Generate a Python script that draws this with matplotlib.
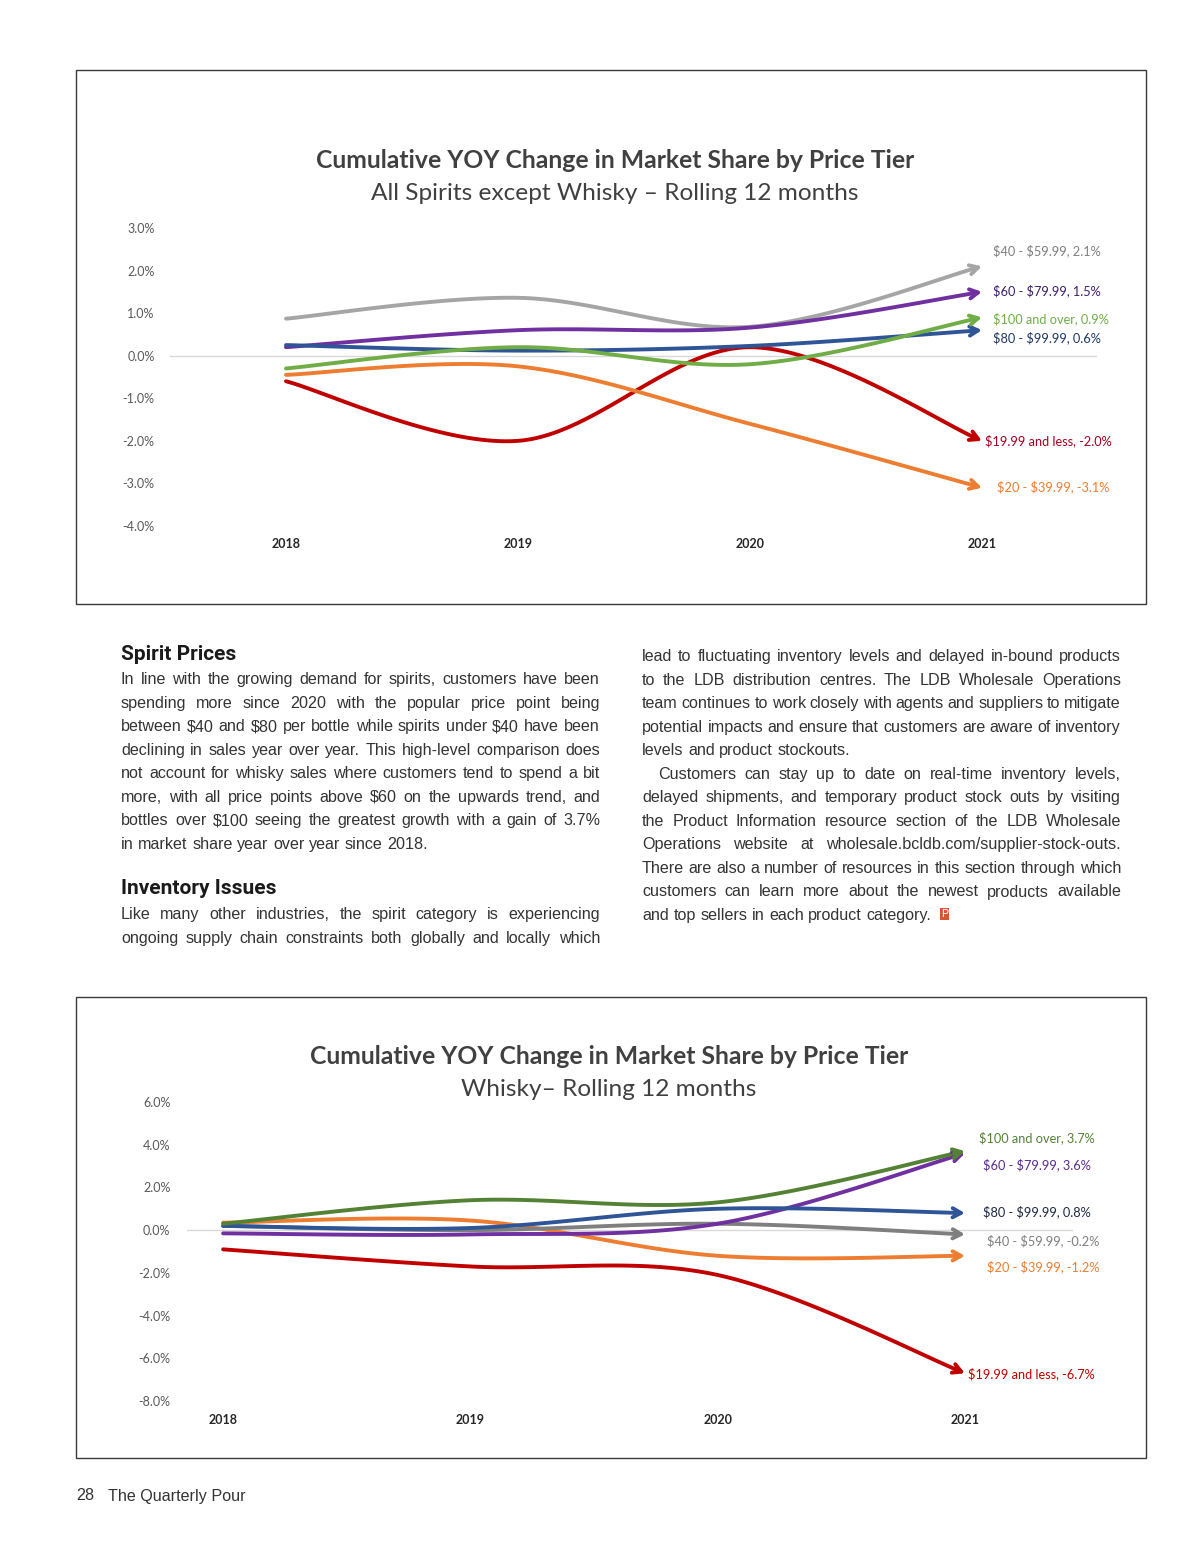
import numpy as np
import matplotlib
matplotlib.use("Agg")
from matplotlib import pyplot as plt
from matplotlib.patches import Rectangle

plt.rcParams['text.parse_math'] = False

W, H = 1200, 1553

years = ['2018', '2019', '2020', '2021']
tiers = ['$19.99 and less', '$20 - $39.99', '$40 - $59.99',
         '$60 - $79.99', '$80 - $99.99', '$100 and over']

# all spirits except whisky, cumulative yoy change (%)
spirits_under20 = [-0.6, -2.0, 0.2, -2.0]
spirits_20_40 = [-0.45, -0.25, -1.6, -3.1]
spirits_40_60 = [0.87, 1.36, 0.68, 2.1]
spirits_60_80 = [0.2, 0.6, 0.66, 1.5]
spirits_80_100 = [0.25, 0.12, 0.23, 0.6]
spirits_100_up = [-0.3, 0.2, -0.2, 0.9]

# whisky
whisky_under20 = [-0.9, -1.7, -2.1, -6.7]
whisky_20_40 = [0.35, 0.45, -1.2, -1.2]
whisky_40_60 = [0.2, 0.0, 0.3, -0.2]
whisky_60_80 = [-0.15, -0.2, 0.3, 3.6]
whisky_80_100 = [0.2, 0.1, 1.0, 0.8]
whisky_100_up = [0.3, 1.4, 1.3, 3.7]

spirits_ticks = [3, 2, 1, 0, -1, -2, -3, -4]
whisky_ticks = [6, 4, 2, 0, -2, -4, -6, -8]


def px(x, y):
    return x / W, 1 - y / H


def smooth(ys, n=40):
    # excel-like bezier smoothing through the points
    pts = np.column_stack([np.arange(len(ys)), ys]).astype(float)
    p = np.vstack([pts[0], pts, pts[-1]])
    out = []
    t = np.linspace(0, 1, n)[:, None]
    for i in range(1, len(p) - 2):
        p0, p1, p2, p3 = p[i - 1], p[i], p[i + 1], p[i + 2]
        c1 = p1 + (p2 - p0) / 6
        c2 = p2 - (p3 - p1) / 6
        seg = (1 - t)**3 * p1 + 3 * (1 - t)**2 * t * c1 + 3 * (1 - t) * t**2 * c2 + t**3 * p2
        out.append(seg if i == 1 else seg[1:])
    return np.vstack(out)


def chart(rect, ylim, ticks, xlim, series, colors, label_colors, label_pos, tick_pad):
    ax = fig.add_axes(rect)
    ax.set_xlim(*xlim)
    ax.set_ylim(*ylim)
    ax.axhline(0, color='#d9d9d9', lw=1, zorder=0)
    for vals, c in zip(series, colors):
        xy = smooth(vals)
        ax.plot(xy[:-3, 0], xy[:-3, 1], color=c, lw=2.8, solid_capstyle='round')
        ax.annotate('', xy=xy[-1], xytext=xy[-4],
                    arrowprops=dict(arrowstyle='->,head_length=0.6,head_width=0.33',
                                    color=c, lw=2.8, shrinkA=0, shrinkB=0))
    for name, vals, c, (lx, ly) in zip(tiers, series, label_colors, label_pos):
        ax.text(3 + lx, ly, '%s, %.1f%%' % (name, vals[-1]), color=c,
                fontsize=9.2, va='center', ha='left', family='Lato')
    ax.set_yticks(ticks)
    ax.set_yticklabels(['%.1f%%' % v for v in ticks], fontsize=9, color='#595959', family='Lato')
    ax.set_xticks(range(len(years)))
    ax.set_xticklabels(years, fontsize=9, fontweight='bold', color='#262626', family='Lato')
    ax.tick_params(length=0, axis='y', pad=tick_pad)
    ax.tick_params(length=0, axis='x', pad=9)
    for s in ax.spines.values():
        s.set_visible(False)
    ax.patch.set_alpha(0)
    return ax


fig = plt.figure(figsize=(W / 100, H / 100), dpi=100)
renderer = fig.canvas.get_renderer()

# frames
for (x0, y0, x1, y1) in [(76, 70, 1146, 604), (76, 997, 1146, 1458)]:
    fig.add_artist(Rectangle(px(x0, y1), (x1 - x0) / W, (y1 - y0) / H,
                             transform=fig.transFigure, fill=False, ec='#3a3a3a', lw=1))

line_colors_top = ['#c00000', '#ed7d31', '#a5a5a5', '#7030a0', '#2f5597', '#70ad47']
label_colors_top = ['#a50021', '#ed7d31', '#7f7f7f', '#3f1f6b', '#1f3864', '#70ad47']
chart([170 / W, 1 - 526 / H, 927 / W, 298 / H], (-4, 3), spirits_ticks, (-0.5, 3.496),
      [spirits_under20, spirits_20_40, spirits_40_60, spirits_60_80, spirits_80_100, spirits_100_up],
      line_colors_top, label_colors_top,
      [(0.013, -2.0), (0.065, -3.07), (0.047, 2.46), (0.047, 1.53), (0.047, 0.42), (0.047, 0.87)], 11)

line_colors_bot = ['#c00000', '#ed7d31', '#7f7f7f', '#7030a0', '#2f5597', '#548235']
label_colors_bot = ['#c00000', '#ed7d31', '#7f7f7f', '#5b2c8f', '#1f2a44', '#548235']
chart([187 / W, 1 - 1401 / H, 886 / W, 299 / H], (-8, 6), whisky_ticks, (-0.146, 3.437),
      [whisky_under20, whisky_20_40, whisky_40_60, whisky_60_80, whisky_80_100, whisky_100_up],
      line_colors_bot, label_colors_bot,
      [(0.012, -6.74), (0.089, -1.69), (0.089, -0.51), (0.073, 3.04), (0.073, 0.84), (0.057, 4.35)], 12)

# chart titles
title = 'Cumulative YOY Change in Market Share by Price Tier'
fig.text(*px(615, 160), title, fontsize=17.8, fontweight='bold', color='#404040',
         ha='center', va='center', family='Lato')
fig.text(*px(615, 193), 'All Spirits except Whisky \u2013 Rolling 12 months', fontsize=17.6,
         color='#404040', ha='center', va='center', family='Lato')
fig.text(*px(609, 1056), title, fontsize=17.8, fontweight='bold', color='#404040',
         ha='center', va='center', family='Lato')
fig.text(*px(609, 1089), 'Whisky\u2013 Rolling 12 months', fontsize=17.6,
         color='#404040', ha='center', va='center', family='Lato')

# body text
body = dict(fontsize=11.6, color='#333333', family='Liberation Sans')
head = dict(fontsize=15, color='#1a1a1a', family='Roboto', fontweight='bold')


def width(s):
    t = fig.text(0, 0, s, **body)
    w = t.get_window_extent(renderer).width
    t.remove()
    return w


def justify(line, x0, x1, y, last=False, indent=0):
    words = line.split(' ')
    ws = [width(w) for w in words]
    space = width('a a') - width('aa')
    if last or len(words) == 1:
        gap = space
    else:
        gap = (x1 - x0 - indent - sum(ws)) / (len(words) - 1)
    x = x0 + indent
    for w, wd in zip(words, ws):
        fig.text(*px(x, y), w, ha='left', va='baseline', **body)
        x += wd + gap
    return x - gap


left_1 = [
    "In line with the growing demand for spirits, customers have been",
    "spending more since 2020 with the popular price point being",
    "between $40 and $80 per bottle while spirits under $40 have been",
    "declining in sales year over year. This high-level comparison does",
    "not account for whisky sales where customers tend to spend a bit",
    "more, with all price points above $60 on the upwards trend, and",
    "bottles over $100 seeing the greatest growth with a gain of 3.7%",
    "in market share year over year since 2018.",
]
left_2 = [
    "Like many other industries, the spirit category is experiencing",
    "ongoing supply chain constraints both globally and locally which",
]
right_1 = [
    "lead to fluctuating inventory levels and delayed in-bound products",
    "to the LDB distribution centres. The LDB Wholesale Operations",
    "team continues to work closely with agents and suppliers to mitigate",
    "potential impacts and ensure that customers are aware of inventory",
    "levels and product stockouts.",
]
right_2 = [
    "Customers can stay up to date on real-time inventory levels,",
    "delayed shipments, and temporary product stock outs by visiting",
    "the Product Information resource section of the LDB Wholesale",
    "Operations website at wholesale.bcldb.com/supplier-stock-outs.",
    "There are also a number of resources in this section through which",
    "customers can learn more about the newest products available",
    "and top sellers in each product category.",
]

lh = 23.55
fig.text(*px(121, 654), 'Spirit Prices', ha='left', va='center', **head)
for i, s in enumerate(left_1):
    justify(s, 121, 600, 684 + i * lh, last=(i == len(left_1) - 1))
fig.text(*px(121, 889), 'Inventory Issues', ha='left', va='center', **head)
for i, s in enumerate(left_2):
    justify(s, 121, 600, 919 + i * lh)

for i, s in enumerate(right_1):
    justify(s, 642, 1121, 661 + i * lh, last=(i == len(right_1) - 1))
for i, s in enumerate(right_2):
    end = justify(s, 642, 1121, 661 + (i + 5) * lh, last=(i == len(right_2) - 1),
                  indent=16 if i == 0 else 0)
fig.text(*px(end + 10, 914), 'P', fontsize=8, color='white',
         ha='left', va='center', family='Roboto',
         bbox=dict(boxstyle='square,pad=0.12', fc='#d9553a', ec='none'))

# footer
fig.text(*px(76, 1496), '28', ha='left', va='center', fontsize=11.6, color='#333333', family='Liberation Sans')
fig.text(*px(108, 1496), 'The Quarterly Pour', ha='left', va='center', fontsize=11.6,
         color='#333333', family='Liberation Sans')

fig.savefig('out.png', dpi=100, facecolor='white')
